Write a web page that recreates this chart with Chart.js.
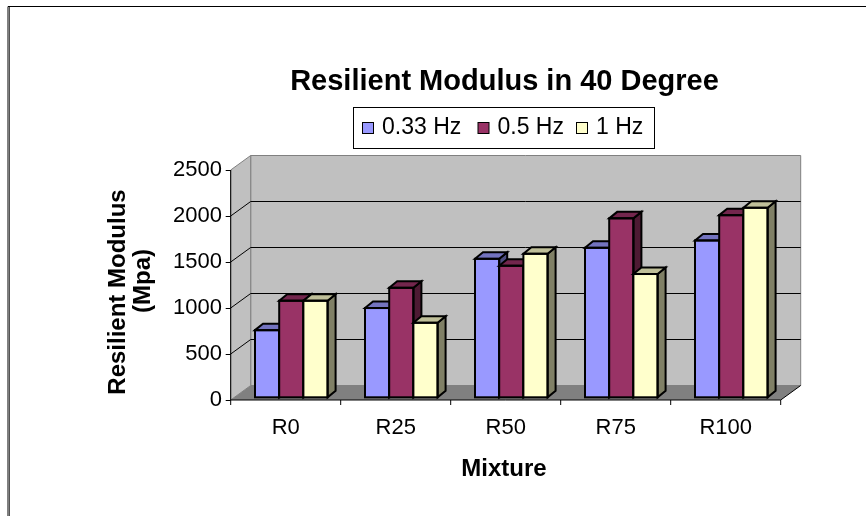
<!DOCTYPE html>
<html>
<head>
<meta charset="utf-8">
<script src="https://cdn.jsdelivr.net/npm/chart.js@4/dist/chart.umd.min.js"></script>
<style>
  html, body { margin: 0; padding: 0; background: #fff; }
  canvas { display: block; }
</style>
</head>
<body>
<canvas id="modChart" width="866" height="516"></canvas>
<script>
// values
const categories = ['R0', 'R25', 'R50', 'R75', 'R100'];
const hz033 = [730, 970, 1505, 1625, 1705];
const hz05 = [1050, 1190, 1430, 1945, 1980];
const hz1 = [1050, 810, 1560, 1340, 2060];
const seriesNames = ['0.33 Hz', '0.5 Hz', '1 Hz'];
const yMin = 0, yMax = 2500, yStep = 500;

const FONT = "'Liberation Sans', Arial, sans-serif";
const colors = ['#9999ff', '#993366', '#ffffcc'];
const DEPTH = { x: 20, y: -14.5 };     // wall depth
const BAR_SHIFT = { x: 5.6, y: -2.7 }; // bars sit a little behind the front plane
const BAR_DEPTH = { x: 8, y: -6.5 };

function shade(hex, f) {
  const n = parseInt(hex.slice(1), 16);
  const r = Math.round(((n >> 16) & 255) * f);
  const g = Math.round(((n >> 8) & 255) * f);
  const b = Math.round((n & 255) * f);
  return 'rgb(' + r + ',' + g + ',' + b + ')';
}

function poly(ctx, pts, fill, stroke, lw) {
  ctx.beginPath();
  ctx.moveTo(pts[0][0], pts[0][1]);
  for (let i = 1; i < pts.length; i++) ctx.lineTo(pts[i][0], pts[i][1]);
  ctx.closePath();
  if (fill) { ctx.fillStyle = fill; ctx.fill(); }
  if (stroke) { ctx.strokeStyle = stroke; ctx.lineWidth = lw || 1; ctx.stroke(); }
}

const box3d = {
  id: 'box3d',
  beforeDatasetsDraw(chart) {
    const { ctx, chartArea: a, scales: { x, y } } = chart;
    const dx = DEPTH.x, dy = DEPTH.y;
    ctx.save();
    // back wall, left wall, floor
    poly(ctx, [[a.left + dx, a.top + dy], [a.right + dx, a.top + dy], [a.right + dx, a.bottom + dy], [a.left + dx, a.bottom + dy]], '#c0c0c0', '#808080');
    poly(ctx, [[a.left, a.top], [a.left + dx, a.top + dy], [a.left + dx, a.bottom + dy], [a.left, a.bottom]], '#c0c0c0', '#808080');
    poly(ctx, [[a.left, a.bottom], [a.right, a.bottom], [a.right + dx, a.bottom + dy], [a.left + dx, a.bottom + dy]], '#808080');

    // gridlines on both walls
    ctx.strokeStyle = '#000';
    ctx.lineWidth = 1;
    for (let v = yMin + yStep; v < yMax; v += yStep) {
      const py = y.getPixelForValue(v);
      ctx.beginPath();
      ctx.moveTo(a.left, py);
      ctx.lineTo(a.left + dx, py + dy);
      ctx.lineTo(a.right + dx, py + dy);
      ctx.stroke();
    }

    // axis lines and tick marks
    ctx.beginPath();
    ctx.moveTo(a.left, a.top);
    ctx.lineTo(a.left, a.bottom);
    ctx.lineTo(a.right, a.bottom);
    ctx.lineTo(a.right + dx, a.bottom + dy);
    for (let v = yMin; v <= yMax; v += yStep) {
      const py = Math.round(y.getPixelForValue(v)) + 0.5;
      ctx.moveTo(a.left - 5, py);
      ctx.lineTo(a.left, py);
    }
    const cw = a.width / categories.length;
    for (let i = 0; i <= categories.length; i++) {
      const px = a.left + i * cw;
      ctx.moveTo(px, a.bottom);
      ctx.lineTo(px, a.bottom + 5);
    }
    ctx.stroke();
    ctx.restore();

    ctx.save();
    ctx.translate(BAR_SHIFT.x, BAR_SHIFT.y);
  },
  afterDatasetsDraw(chart) {
    // repaint left to right so each bar hides the sides of the one before it
    const ctx = chart.ctx;
    const bx = BAR_DEPTH.x, by = BAR_DEPTH.y;
    for (let i = 0; i < seriesNames.length; i++) {
      const col = colors[i];
      chart.getDatasetMeta(i).data.forEach(bar => {
        bar.draw(ctx);
        const p = bar.getProps(['x', 'y', 'base', 'width'], true);
        const l = p.x - p.width / 2, r = p.x + p.width / 2;
        ctx.lineJoin = 'miter';
        poly(ctx, [[r, p.y], [r + bx, p.y + by], [r + bx, p.base + by], [r, p.base]], shade(col, 0.5), '#000', 2);
        poly(ctx, [[l, p.y], [l + bx, p.y + by], [r + bx, p.y + by], [r, p.y]], shade(col, 0.75), '#000', 2);
        ctx.strokeStyle = '#000';
        ctx.lineWidth = 2;
        ctx.strokeRect(l, p.y, p.width, p.base - p.y);
      });
    }
    ctx.restore();
  },
  afterDraw(chart) {
    const ctx = chart.ctx;
    ctx.save();
    // outer frame
    ctx.strokeStyle = '#000';
    ctx.lineWidth = 1;
    ctx.beginPath();
    ctx.moveTo(8, 516);
    ctx.lineTo(8, 6.5);
    ctx.lineTo(866, 6.5);
    ctx.stroke();
    ctx.strokeStyle = '#555';
    ctx.beginPath();
    ctx.moveTo(9.5, 7);
    ctx.lineTo(9.5, 516);
    ctx.stroke();

    ctx.fillStyle = '#000';
    ctx.textAlign = 'center';
    ctx.textBaseline = 'middle';
    ctx.font = 'bold 29px ' + FONT;
    ctx.fillText('Resilient Modulus in 40 Degree', 504.5, 82);

    ctx.font = 'bold 24px ' + FONT;
    ctx.fillText('Mixture', 504, 469);

    ctx.save();
    ctx.translate(118, 292);
    ctx.rotate(-Math.PI / 2);
    ctx.fillText('Resilient Modulus', 0, 0);
    ctx.restore();
    ctx.save();
    ctx.translate(143, 281);
    ctx.rotate(-Math.PI / 2);
    ctx.fillText('(Mpa)', 0, 0);
    ctx.restore();

    // legend
    ctx.fillStyle = '#fff';
    ctx.fillRect(353.5, 107.5, 301, 41);
    ctx.strokeStyle = '#000';
    ctx.strokeRect(353.5, 107.5, 301, 41);
    const legendX = [362, 477.5, 576];
    ctx.font = '23px ' + FONT;
    ctx.textAlign = 'left';
    seriesNames.forEach((name, i) => {
      ctx.fillStyle = colors[i];
      ctx.fillRect(legendX[i] + 0.5, 122.5, 11, 11);
      ctx.strokeRect(legendX[i] + 0.5, 122.5, 11, 11);
      ctx.fillStyle = '#000';
      ctx.fillText(name, legendX[i] + 20, 128);
    });
    ctx.restore();
  }
};

const datasets = [hz033, hz05, hz1].map((vals, i) => ({
  label: seriesNames[i],
  data: vals,
  backgroundColor: colors[i],
  borderWidth: 0,
  categoryPercentage: 0.66,
  barPercentage: 1.0,
  clip: false
}));

new Chart(document.getElementById('modChart'), {
  type: 'bar',
  data: { labels: categories, datasets: datasets },
  options: {
    responsive: false,
    animation: false,
    events: [],
    layout: { padding: { left: 0, right: 85.3, top: 170, bottom: 0 } },
    plugins: { legend: { display: false }, title: { display: false }, tooltip: { enabled: false } },
    scales: {
      x: {
        grid: { display: false, drawTicks: false },
        border: { display: false },
        ticks: { color: '#000', font: { family: FONT, size: 22 }, padding: 15, maxRotation: 0, autoSkip: false },
        afterFit(s) { s.height = 116; }
      },
      y: {
        min: yMin, max: yMax,
        grid: { display: false, drawTicks: false },
        border: { display: false },
        ticks: {
          stepSize: yStep, color: '#000', font: { family: FONT, size: 22 }, padding: 8.7,
          callback: v => String(v)
        },
        afterFit(s) { s.width = 230.7; }
      }
    }
  },
  plugins: [box3d]
});
</script>
</body>
</html>
